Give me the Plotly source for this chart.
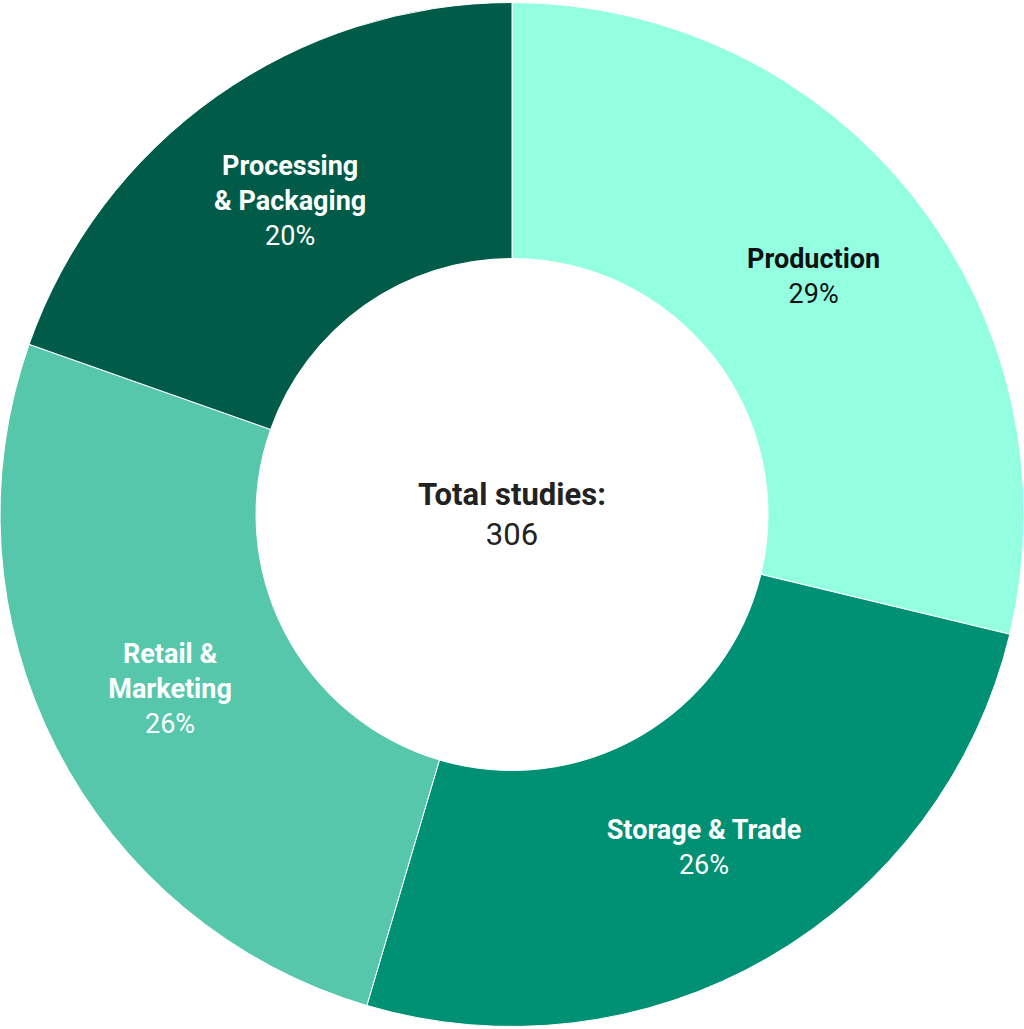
import plotly.graph_objects as go

# Number of studies per value-chain stage
stages = ["Production", "Storage & Trade", "Retail &<br>Marketing", "Processing<br>& Packaging"]
studies = [88, 79, 79, 60]
stage_colors = ["#93FFE0", "#009073", "#56C7AB", "#005C48"]
label_colors = ["#111111", "#FFFFFF", "#FFFFFF", "#FFFFFF"]
total_label = "Total studies:"

fig = go.Figure(
    go.Pie(
        labels=stages,
        values=studies,
        hole=0.5,
        sort=False,
        direction="clockwise",
        rotation=0,
        marker=dict(colors=stage_colors, line=dict(color="#FFFFFF", width=1)),
        texttemplate="<b>%{label}</b><br>%{percent:.0%}",
        textposition="inside",
        insidetextorientation="horizontal",
        textfont=dict(family="Roboto", size=27, color=label_colors),
        hoverinfo="label+value+percent",
        showlegend=False,
    )
)

fig.add_annotation(
    x=0.5, y=0.5, xref="paper", yref="paper",
    text=f"<b>{total_label}</b><br>{sum(studies)}",
    showarrow=False,
    font=dict(family="Roboto", size=31, color="#222222"),
    align="center",
)

fig.update_layout(
    width=1024,
    height=1029,
    margin=dict(l=0, r=0, t=0, b=0),
    paper_bgcolor="#FFFFFF",
    plot_bgcolor="#FFFFFF",
)

fig.write_html("out.html")
